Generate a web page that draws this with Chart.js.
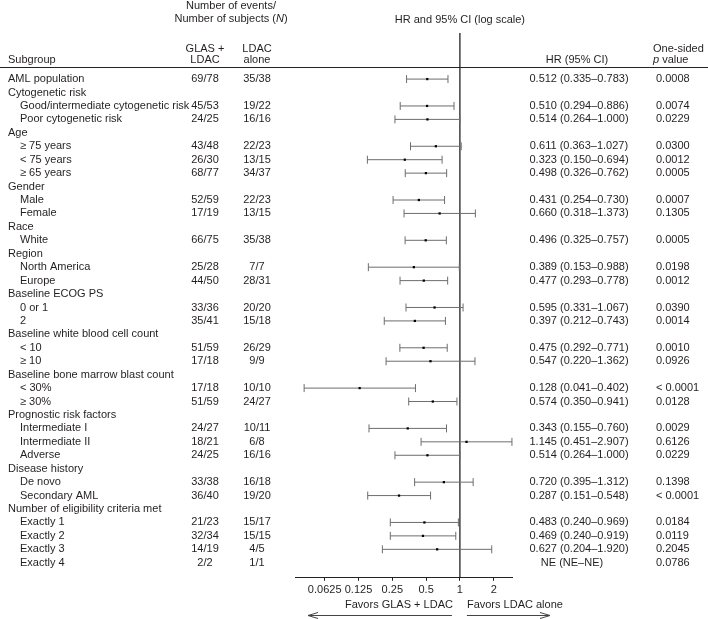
<!DOCTYPE html>
<html>
<head>
<meta charset="utf-8">
<script src="https://cdn.jsdelivr.net/npm/chart.js@4.4.1/dist/chart.umd.min.js"></script>
<style>
  html, body { margin: 0; padding: 0; background: #fff; }
  #wrap { width: 708px; height: 619px; position: relative; }
</style>
</head>
<body>
<div id="wrap"><canvas id="myChart" width="708" height="619"></canvas></div>
<script>
// rows of the forest plot, top to bottom (group headers have no values)
const rowLabels = [
  "AML population", "Cytogenetic risk", "Good/intermediate cytogenetic risk", "Poor cytogenetic risk",
  "Age", "\u2265 75 years", "< 75 years", "\u2265 65 years",
  "Gender", "Male", "Female",
  "Race", "White",
  "Region", "North America", "Europe",
  "Baseline ECOG PS", "0 or 1", "2",
  "Baseline white blood cell count", "< 10", "\u2265 10",
  "Baseline bone marrow blast count", "< 30%", "\u2265 30%",
  "Prognostic risk factors", "Intermediate I", "Intermediate II", "Adverse",
  "Disease history", "De novo", "Secondary AML",
  "Number of eligibility criteria met", "Exactly 1", "Exactly 2", "Exactly 3", "Exactly 4"
];
const isGroup = [0,1,0,0, 1,0,0,0, 1,0,0, 1,0, 1,0,0, 1,0,0, 1,0,0, 1,0,0, 1,0,0,0, 1,0,0, 1,0,0,0,0];
const glasN = [
  "69/78", "", "45/53", "24/25", "", "43/48", "26/30", "68/77", "", "52/59", "17/19", "", "66/75",
  "", "25/28", "44/50", "", "33/36", "35/41", "", "51/59", "17/18", "", "17/18", "51/59",
  "", "24/27", "18/21", "24/25", "", "33/38", "36/40", "", "21/23", "32/34", "14/19", "2/2"
];
const ldacN = [
  "35/38", "", "19/22", "16/16", "", "22/23", "13/15", "34/37", "", "22/23", "13/15", "", "35/38",
  "", "7/7", "28/31", "", "20/20", "15/18", "", "26/29", "9/9", "", "10/10", "24/27",
  "", "10/11", "6/8", "16/16", "", "16/18", "19/20", "", "15/17", "15/15", "4/5", "1/1"
];
const hrValues = [
  0.512, null, 0.510, 0.514, null, 0.611, 0.323, 0.498, null, 0.431, 0.660, null, 0.496,
  null, 0.389, 0.477, null, 0.595, 0.397, null, 0.475, 0.547, null, 0.128, 0.574,
  null, 0.343, 1.145, 0.514, null, 0.720, 0.287, null, 0.483, 0.469, 0.627, null
];
const ciLow = [
  0.335, null, 0.294, 0.264, null, 0.363, 0.150, 0.326, null, 0.254, 0.318, null, 0.325,
  null, 0.153, 0.293, null, 0.331, 0.212, null, 0.292, 0.220, null, 0.041, 0.350,
  null, 0.155, 0.451, 0.264, null, 0.395, 0.151, null, 0.240, 0.240, 0.204, null
];
const ciHigh = [
  0.783, null, 0.886, 1.000, null, 1.027, 0.694, 0.762, null, 0.730, 1.373, null, 0.757,
  null, 0.988, 0.778, null, 1.067, 0.743, null, 0.771, 1.362, null, 0.402, 0.941,
  null, 0.760, 2.907, 1.000, null, 1.312, 0.548, null, 0.969, 0.919, 1.920, null
];
const pValues = [
  "0.0008", "", "0.0074", "0.0229", "", "0.0300", "0.0012", "0.0005", "", "0.0007", "0.1305", "", "0.0005",
  "", "0.0198", "0.0012", "", "0.0390", "0.0014", "", "0.0010", "0.0926", "", "< 0.0001", "0.0128",
  "", "0.0029", "0.6126", "0.0229", "", "0.1398", "< 0.0001", "", "0.0184", "0.0119", "0.2045", "0.0786"
];
const xTicks = [0.0625, 0.125, 0.25, 0.5, 1, 2];

const FONT = '"Liberation Sans", Arial, sans-serif';
const TXT = '#231f20';
const BAR = '#6d6d6d';

function hrText(i) {
  if (hrValues[i] == null) return "NE (NE\u2013NE)";
  return hrValues[i].toFixed(3) + " (" + ciLow[i].toFixed(3) + "\u2013" + ciHigh[i].toFixed(3) + ")";
}

// build datasets
let datasets = [];
let pts = [], caps = [];
rowLabels.forEach((lab, i) => {
  if (hrValues[i] == null) return;
  pts.push({x: hrValues[i], y: i});
  caps.push({x: ciLow[i], y: i}, {x: ciHigh[i], y: i});
});
datasets.push({type: 'scatter', data: pts, pointStyle: 'rect', pointRadius: 1.6,
  backgroundColor: '#000', borderColor: '#000', borderWidth: 0, clip: false});
datasets.push({type: 'scatter', data: caps, pointStyle: 'line', rotation: 90, pointRadius: 4,
  borderColor: BAR, borderWidth: 1, clip: false});
rowLabels.forEach((lab, i) => {
  if (hrValues[i] == null) return;
  datasets.push({type: 'line', data: [{x: ciLow[i], y: i}, {x: ciHigh[i], y: i}],
    borderColor: BAR, borderWidth: 1, pointRadius: 0, clip: false});
});
const Y_TOP = -3.43, Y_BOT = 37.12;
datasets.push({type: 'line', data: [{x: 1, y: Y_TOP}, {x: 1, y: Y_BOT}],
  borderColor: '#111', borderWidth: 1.2, pointRadius: 0, clip: false});

function italicLine(ctx, parts, cx, y) {
  // parts: [text, italic]
  let w = 0;
  parts.forEach(p => { ctx.font = (p[1] ? 'italic ' : '') + '11px ' + FONT; w += ctx.measureText(p[0]).width; });
  let x = cx - w / 2;
  ctx.textAlign = 'left';
  parts.forEach(p => { ctx.font = (p[1] ? 'italic ' : '') + '11px ' + FONT; ctx.fillText(p[0], x, y); x += ctx.measureText(p[0]).width; });
}

const tablePlugin = {
  id: 'table',
  afterDraw(chart) {
    const ctx = chart.ctx, ys = chart.scales.y, xs = chart.scales.x;
    ctx.save();
    ctx.fillStyle = TXT;
    ctx.textBaseline = 'middle';
    ctx.font = '11px ' + FONT;

    // headers
    ctx.textAlign = 'center';
    ctx.fillText("Number of events/", 231, 6);
    italicLine(ctx, [["Number of subjects (", false], ["N", true], [")", false]], 231, 19);
    ctx.font = '11px ' + FONT;
    ctx.textAlign = 'center';
    ctx.fillText("HR and 95% CI (log scale)", xs.getPixelForValue(1), 20);
    ctx.textAlign = 'left';
    ctx.fillText("Subgroup", 8, 60);
    ctx.textAlign = 'center';
    ctx.fillText("GLAS +", 205, 49);
    ctx.fillText("LDAC", 205, 60);
    ctx.fillText("LDAC", 257, 49);
    ctx.fillText("alone", 257, 60);
    ctx.fillText("HR (95% CI)", 577, 60);
    ctx.textAlign = 'left';
    ctx.fillText("One-sided", 653, 49);
    ctx.font = 'italic 11px ' + FONT;
    ctx.fillText("p", 653, 60);
    const pw = ctx.measureText("p").width;
    ctx.font = '11px ' + FONT;
    ctx.fillText(" value", 653 + pw, 60);

    // header rule
    ctx.strokeStyle = '#222';
    ctx.lineWidth = 1;
    ctx.beginPath();
    ctx.moveTo(0, 67.5);
    ctx.lineTo(708, 67.5);
    ctx.stroke();

    // rows
    rowLabels.forEach((lab, i) => {
      const y = ys.getPixelForValue(i);
      ctx.textAlign = 'left';
      ctx.fillText(lab, (isGroup[i] || i === 0) ? 8 : 20, y);
      if (isGroup[i]) return;
      ctx.textAlign = 'center';
      ctx.fillText(glasN[i], 205, y);
      ctx.fillText(ldacN[i], 257, y);
      ctx.fillText(hrText(i), hrValues[i] == null ? 572 : 579, y);
      ctx.textAlign = 'left';
      ctx.fillText(pValues[i], 656, y);
    });

    // favours labels and arrows
    const x1 = xs.getPixelForValue(1);
    ctx.textAlign = 'right';
    ctx.fillText("Favors GLAS + LDAC", x1 - 7, 605);
    ctx.textAlign = 'left';
    ctx.fillText("Favors LDAC alone", x1 + 7, 605);
    ctx.strokeStyle = '#444';
    ctx.lineWidth = 1;
    const ay = 615.5;
    ctx.beginPath();
    ctx.moveTo(x1 - 8, ay); ctx.lineTo(308, ay);
    ctx.moveTo(318, ay - 3); ctx.lineTo(308, ay); ctx.lineTo(318, ay + 3);
    ctx.moveTo(x1 + 7, ay); ctx.lineTo(550, ay);
    ctx.moveTo(540, ay - 3); ctx.lineTo(550, ay); ctx.lineTo(540, ay + 3);
    ctx.stroke();
    ctx.restore();
  }
};

const ctx = document.getElementById('myChart').getContext('2d');
const myChart = new Chart(ctx, {
  type: 'scatter',
  data: { datasets: datasets },
  options: {
    responsive: false,
    animation: false,
    layout: { padding: { left: 295, right: 196, top: 33, bottom: 19 } },
    plugins: { legend: { display: false }, tooltip: { enabled: false } },
    scales: {
      x: {
        type: 'logarithmic',
        min: 0.034, max: 2.91,
        afterBuildTicks: (axis) => { axis.ticks = xTicks.map(v => ({value: v})); },
        ticks: {
          color: TXT, font: { family: FONT, size: 11 }, padding: 3, maxRotation: 0,
          callback: (v) => String(v)
        },
        grid: { drawOnChartArea: false, drawTicks: true, tickLength: 3, color: '#222' },
        border: { display: true, color: '#222', width: 1 }
      },
      y: {
        display: false,
        reverse: true,
        min: Y_TOP, max: Y_BOT
      }
    }
  },
  plugins: [tablePlugin]
});
</script>
</body>
</html>
